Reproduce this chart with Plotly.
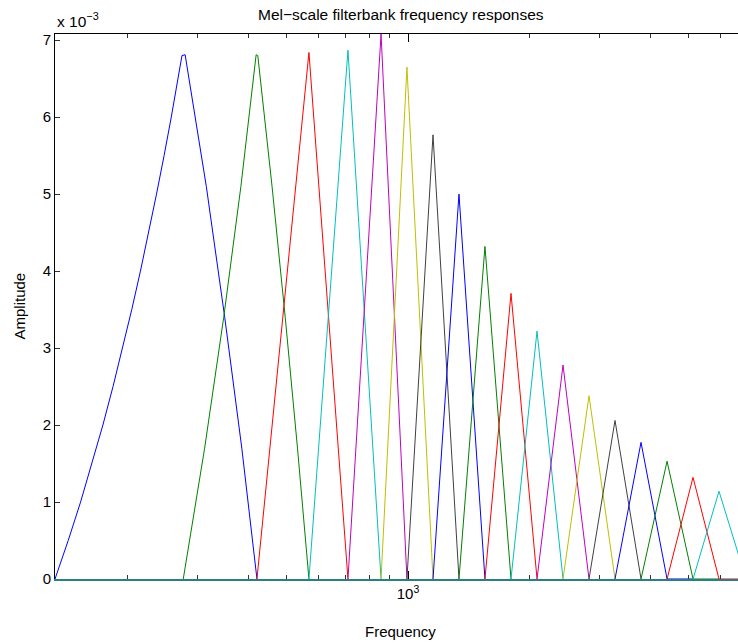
import plotly.graph_objects as go
import math

# ---- data (frequencies in Hz, amplitudes in units of 1e-3) ----
edges_hz = [132.4, 276, 421, 567, 709, 857, 994, 1154, 1339, 1554, 1804,
            2094, 2430, 2820, 3273, 3799, 4410, 5117, 5938, 6930]
peak_amp_e3 = [6.81, 6.81, 6.84, 6.87, 7.08, 6.65, 5.77, 5.00, 4.32, 3.71,
               3.22, 2.78, 2.38, 2.06, 1.775, 1.53, 1.32, 1.14]
# extra vertices read along the wide (curved on log axis) first filters
rise_pts = {0: [(136.6, 0.2), (142.8, 0.5), (153.3, 1.0), (163.7, 1.5), (174.2, 2.0),
                (184.6, 2.5), (195.0, 3.0), (205.5, 3.5), (216.0, 4.0), (226.4, 4.5),
                (236.8, 5.0), (247.3, 5.5), (257.7, 6.0)],
            1: [(312, 1.70), (348, 3.40), (384, 5.10)]}
top_pts = {0: [(274, 6.80), (279, 6.81)],
           1: [(419, 6.81), (423, 6.80)]}
fall_pts = {0: [(315, 5.10), (350, 3.40), (386, 1.70)],
            1: [(459, 5.10), (495, 3.40), (531, 1.70)]}
# zero tails visible along the baseline at the right end (filter index -> tail end Hz)
tail_end_hz = {14: 5117, 15: 5938, 16: 7000}

colors = ["#0000FF", "#008000", "#FF0000", "#00BFBF", "#BF00BF", "#BFBF00", "#404040"]

x_minor = [200, 300, 400, 500, 600, 700, 800, 900, 2000, 3000, 4000, 5000, 6000]
y_ticks = [0, 1, 2, 3, 4, 5, 6, 7]

FONT = "Liberation Sans, Arial, sans-serif"
XR = [math.log10(132.4), 3.8209]

fig = go.Figure()
for k, amp in enumerate(peak_amp_e3):
    f0, fp, f1 = edges_hz[k], edges_hz[k + 1], edges_hz[k + 2]
    pts = [(f0, 0.0)]
    pts += rise_pts.get(k, [])
    pts += top_pts.get(k, [(fp, amp)])
    pts += fall_pts.get(k, [])
    pts += [(f1, 0.0)]
    if k in tail_end_hz:
        pts.append((tail_end_hz[k], 0.0))
    fig.add_trace(go.Scatter(
        x=[p[0] for p in pts],
        y=[p[1] * 1e-3 for p in pts],
        mode="lines",
        line=dict(color=colors[k % len(colors)], width=1),
        showlegend=False,
        hoverinfo="skip",
    ))

fig.update_layout(
    width=738, height=643,
    margin=dict(l=55, r=0, t=34, b=64),
    paper_bgcolor="white", plot_bgcolor="white",
    font=dict(family=FONT, size=15, color="black"),
    showlegend=False,
)

fig.update_xaxes(
    type="log", range=XR,
    showgrid=False, zeroline=False,
    showline=True, linecolor="#2a8080", linewidth=2, mirror=False,
    tickmode="array", tickvals=[1000], ticktext=["10<sup>3</sup>"],
    ticks="inside", ticklen=8, tickwidth=1, tickcolor="black",
    minor=dict(tickmode="array", tickvals=x_minor, ticks="inside",
               ticklen=4, tickwidth=1, tickcolor="#333333", showgrid=False),
    tickfont=dict(family=FONT, size=15),
)
fig.update_yaxes(
    range=[0, 0.00708],
    showgrid=False, zeroline=False,
    showline=True, linecolor="black", linewidth=1, mirror=False,
    tickmode="array", tickvals=[v * 1e-3 for v in y_ticks],
    ticktext=[str(v) for v in y_ticks],
    ticks="inside", ticklen=5, tickwidth=1, tickcolor="#333333",
    tickfont=dict(family=FONT, size=15),
)

# top border with mirrored ticks (separate overlaid axis)
fig.update_layout(
    xaxis2=dict(
        type="log", range=XR, overlaying="x", side="top",
        showgrid=False, zeroline=False, showline=True, linecolor="black", linewidth=1,
        tickmode="array", tickvals=[1000],
        ticks="inside", ticklen=8, tickwidth=1, tickcolor="black",
        minor=dict(tickmode="array", tickvals=x_minor, ticks="inside",
                   ticklen=4, tickwidth=1, tickcolor="#333333"),
        showticklabels=False, anchor="y",
    )
)
fig.add_trace(go.Scatter(x=[], y=[], xaxis="x2", yaxis="y", showlegend=False))

fig.add_annotation(text="Mel\u2212scale filterbank frequency responses",
                   xref="paper", yref="paper", x=(401 - 55) / 683, y=1,
                   yshift=20, showarrow=False, xanchor="center", yanchor="middle",
                   font=dict(family=FONT, size=15.5))
fig.add_annotation(text="Frequency", xref="paper", yref="paper",
                   x=(400 - 55) / 683, y=0, yshift=-52, showarrow=False,
                   xanchor="center", yanchor="middle", font=dict(family=FONT, size=15))
fig.add_annotation(text="Amplitude", xref="paper", yref="paper",
                   x=0, xshift=-36, y=0.5, textangle=-90, showarrow=False,
                   xanchor="center", yanchor="middle", font=dict(family=FONT, size=15))
fig.add_annotation(text="x 10<sup>\u22123</sup>", xref="paper", yref="paper",
                   x=0, y=1, yshift=14, showarrow=False, xanchor="left",
                   yanchor="middle", font=dict(family=FONT, size=15.5))

fig.write_html("out.html")
